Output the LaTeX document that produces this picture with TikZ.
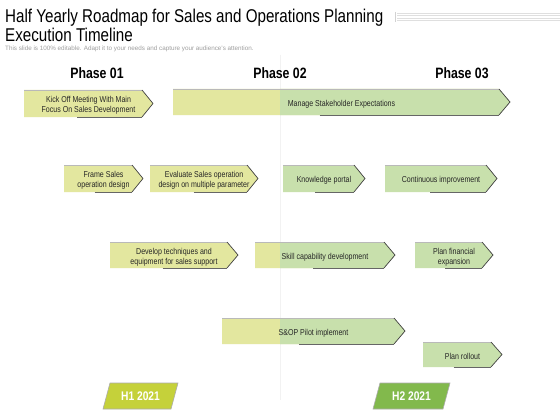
\documentclass[tikz,border=0pt]{standalone}
\usepackage{fontspec}
\setmainfont{Liberation Sans}
\newfontfamily\nar[FakeStretch=0.82]{Liberation Sans}
\usetikzlibrary{calc}
\definecolor{cY}{HTML}{E3E79F}
\definecolor{cG}{HTML}{C8E0AC}
\definecolor{hOne}{HTML}{C5D13A}
\definecolor{hTwo}{HTML}{82B94C}
\tikzset{
  yel/.style={fill=cY},
  grn/.style={fill=cG},
  spl/.style={fill=cY, path picture={\fill[cG] (280,0) rectangle (600,450);}},
  edgetop/.style={draw=gray!55, line width=0.7pt},
  edgetip/.style={draw=black!75, line width=0.7pt},
  edgebot/.style={draw=black!60, line width=0.8pt},
  boxtxt/.style={font=\nar\fontsize{8.6}{10.4}\selectfont, text=black!85, align=center, inner sep=0pt},
  phase/.style={font=\nar\bfseries\fontsize{15}{17}\selectfont, anchor=base},
  half/.style={font=\nar\bfseries\fontsize{12.5}{14}\selectfont, text=white},
  halfbox/.style={draw=gray!65, line width=0.6pt}
}
\newcommand\chev[8]{%
  \pgfmathsetmacro\ym{(#5+#6)/2}%
  \pgfmathsetmacro\xb{#4-11}%
  \path[#7] (#2,#5) -- (\xb,#5) -- (#4,\ym) -- (\xb,#6) -- (#2,#6) -- cycle;
  \draw[edgetop] (#2,#5) -- (\xb,#5);
  \draw[edgebot] ($(\xb,#6)!0.55!(#2,#6)$) -- (\xb,#6);
  \draw[edgetip] (\xb,#5) -- (#4,\ym) -- (\xb,#6);
  \node[boxtxt] (#1) at ({(#2+#4)/2},\ym+2) {#8};
}
\begin{document}
\begin{tikzpicture}[x=1pt,y=-1pt]
\useasboundingbox (0,0) rectangle (560,420);
\fill[white] (0,0) rectangle (560,420);
% title
\node[anchor=base west, inner sep=0pt, font=\nar\fontsize{18.5}{20}\selectfont] (t1) at (5,23) {Half Yearly Roadmap for Sales and Operations Planning};
\node[anchor=base west, inner sep=0pt, font=\nar\fontsize{18.5}{20}\selectfont] (t2) at (5,42) {Execution Timeline};
\node[anchor=base west, inner sep=0pt, font=\fontsize{6.3}{7}\selectfont, text=gray!75] (sub) at (5,51) {This slide is 100\% editable. Adapt it to your needs and capture your audience's attention.};
% decorative lines
\foreach \yy in {13,15.5,18,20.5} \draw[gray!25, line width=0.5pt] (397,\yy) -- (560,\yy);
\draw[gray!35, line width=0.5pt] (395,12) -- (395,22);
% centre guide
\draw[gray!10, line width=0.6pt] (280,55) -- (280,400);
% phases
\node[phase] (p1) at (97,78) {Phase 01};
\node[phase] (p2) at (280,78) {Phase 02};
\node[phase] (p3) at (462,78) {Phase 03};
% chevrons
\chev{kick}{24}{140}{153}{90}{117}{yel}{Kick Off Meeting With Main\\Focus On Sales Development}
\chev{manage}{173}{497}{510}{89}{115}{spl}{Manage Stakeholder Expectations}
\chev{frame}{64}{135}{143}{165}{192}{yel}{Frame Sales\\operation design}
\chev{evalu}{150}{250}{258}{165}{192}{yel}{Evaluate Sales operation\\design on multiple parameter}
\chev{know}{283}{350}{365}{165}{192}{grn}{Knowledge portal}
\chev{cont}{385}{483}{497}{165}{192}{grn}{Continuous improvement}
\chev{devel}{110}{228}{238}{242}{268}{yel}{Develop techniques and\\equipment for sales support}
\chev{skill}{255}{385}{395}{242}{268}{spl}{Skill capability development}
\chev{fin}{415}{485}{493}{242}{268}{grn}{Plan financial\\expansion}
\chev{sop}{222}{393}{405}{318}{344}{spl}{S\&OP Pilot implement}
\chev{roll}{423}{490}{502}{342}{367}{grn}{Plan rollout}
% half-year tags
\filldraw[halfbox, fill=hOne] (103,409) -- (110,383) -- (178,383) -- (171,409) -- cycle;
\node[half] (h1) at (140.5,396.5) {H1 2021};
\filldraw[halfbox, fill=hTwo] (373,409) -- (380,383) -- (450,383) -- (443,409) -- cycle;
\node[half] (h2) at (411.5,396.5) {H2 2021};
\end{tikzpicture}
\end{document}
